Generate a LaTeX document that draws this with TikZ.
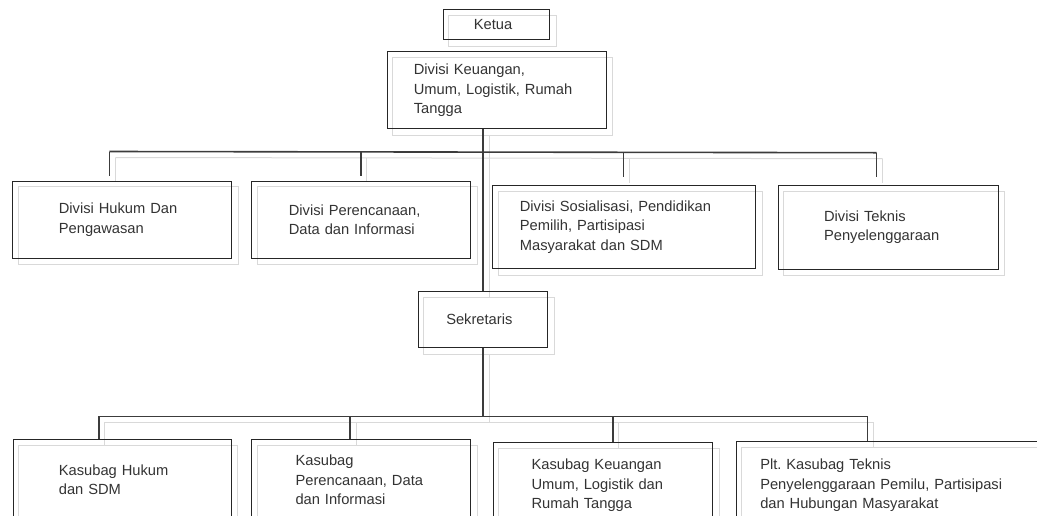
\documentclass[tikz,border=0pt]{standalone}
\usepackage{fontspec}
\setmainfont{Liberation Sans}
\usetikzlibrary{backgrounds}
\definecolor{boxc}{HTML}{262626}
\definecolor{linec}{HTML}{3C3C3C}
\definecolor{shadc}{HTML}{D9D9D9}
\definecolor{txtc}{HTML}{333333}
\newcommand\boxfont{\fontsize{14.7}{19.4}\selectfont\frenchspacing}
\tikzset{
  bx/.style={draw=boxc, line width=1.1pt, rectangle, anchor=north west, align=left,
    inner ysep=0pt, font=\boxfont, text=txtc},
  conn/.style={draw=linec, line width=1.6pt},
  shad/.style={draw=shadc, line width=1pt},
}
\begin{document}
\begin{tikzpicture}[x=1pt,y=-1pt]
\useasboundingbox (0,0) rectangle (1037,515);
\clip (0,0) rectangle (1037,515);
% boxes
\node[bx, inner xsep=30.6pt, text width=45.4pt, minimum height=30pt] (K) at (442.7,9.3) {Ketua};
\node[bx, inner xsep=26.6pt, text width=165.8pt, minimum height=77.3pt] (DK) at (386.7,51) {Divisi Keuangan,\\Umum, Logistik, Rumah\\Tangga};
\node[bx, inner xsep=46pt, text width=126.7pt, minimum height=77pt] (H1) at (12.3,180.7) {Divisi Hukum Dan\\Pengawasan};
\node[bx, inner xsep=37.3pt, text width=144.4pt, minimum height=77pt] (H2) at (251,180.7) {Divisi Perencanaan,\\Data dan Informasi};
\node[bx, inner xsep=27.3pt, text width=208.7pt, minimum height=83pt] (H3) at (492,185) {Divisi Sosialisasi, Pendidikan\\Pemilih, Partisipasi\\Masyarakat dan SDM};
\node[bx, inner xsep=46pt, text width=128pt, minimum height=83.6pt] (H4) at (777.5,185) {Divisi Teknis\\Penyelenggaraan};
\node[bx, inner xsep=28pt, text width=73.6pt, minimum height=56pt] (S) at (417.7,291) {Sekretaris};
\node[bx, inner xsep=45.6pt, text width=126.8pt, minimum height=80pt] (B1) at (12.7,439.3) {Kasubag Hukum\\dan SDM};
\node[bx, inner xsep=44pt, text width=131pt, minimum height=80pt] (B2) at (251,439.3) {Kasubag\\Perencanaan, Data\\dan Informasi};
\node[bx, inner xsep=38.5pt, text width=142.5pt, minimum height=86pt] (B3) at (492.5,442) {Kasubag Keuangan\\Umum, Logistik dan\\Rumah Tangga};
\node[bx, inner xsep=24pt, text width=282pt, minimum height=88pt] (B4) at (735.7,441) {Plt. Kasubag Teknis\\Penyelenggaraan Pemilu, Partisipasi\\dan Hubungan Masyarakat};
% junction coordinates
\coordinate (tr) at (483,152);
\coordinate (ja) at (109.3,151.5);
\coordinate (jb) at (360.7,152);
\coordinate (jc) at (623.6,152.3);
\coordinate (jd) at (876.5,152.7);
\coordinate (ea) at (109.3,175.5);
\coordinate (eb) at (360.7,175.5);
\coordinate (ec) at (623.6,176.5);
\coordinate (ed) at (876.5,176.5);
\coordinate (ka) at (98.7,416.3);
\coordinate (kb) at (350,416.3);
\coordinate (kc) at (612.8,416.3);
\coordinate (kd) at (867.4,416.3);
\newcommand\connectors{%
  \draw[conn] (DK.south -| tr) -- (S.north -| tr);
  \draw[conn] (S.south) -- (S.south |- ka);
  \draw[conn] (ja) -- (jd);
  \draw[conn] (ja) -- (ea);
  \draw[conn] (jb) -- (eb);
  \draw[conn] (jc) -- (ec);
  \draw[conn] (jd) -- (ed);
  \draw[conn] (ka) -- (kd);
  \draw[conn] (ka) -- (B1.north -| ka);
  \draw[conn] (kb) -- (B2.north -| kb);
  \draw[conn] (kc) -- (B3.north -| kc);
  \draw[conn] (kd) -- (B4.north -| kd);
}
\connectors
\begin{scope}[on background layer]
  \begin{scope}[transform canvas={shift={(6pt,-6pt)}}, conn/.style={shad}]
    \connectors
    \foreach \n in {K,DK,H1,H2,H3,H4,S,B1,B2,B3,B4}
      \draw[shad] (\n.north west) rectangle (\n.south east);
  \end{scope}
\end{scope}
\end{tikzpicture}
\end{document}
